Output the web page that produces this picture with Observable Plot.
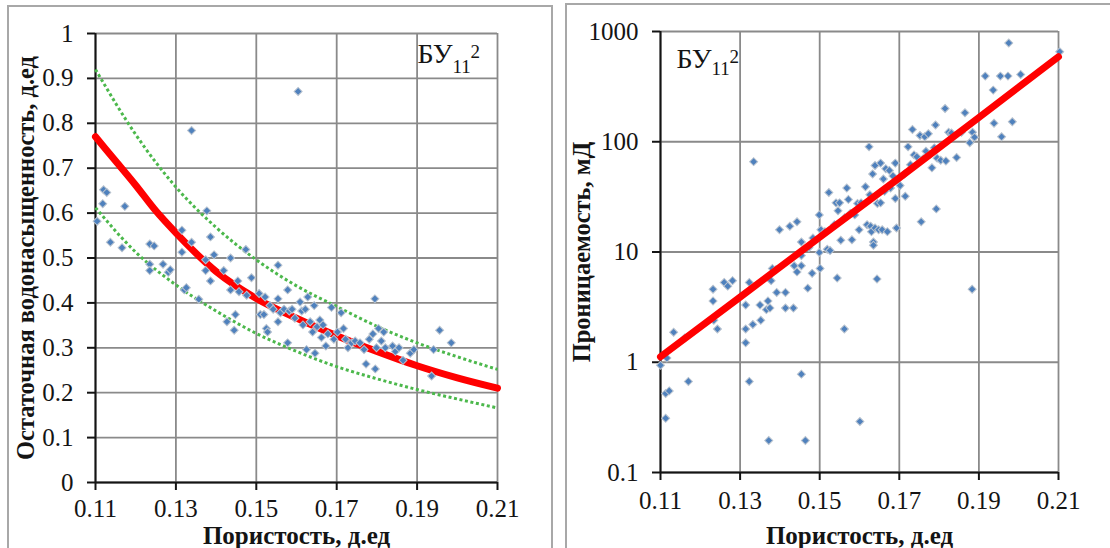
<!DOCTYPE html>
<html><head><meta charset="utf-8">
<script src="https://cdn.jsdelivr.net/npm/d3@7"></script>
<script src="https://cdn.jsdelivr.net/npm/@observablehq/plot@0.6"></script>
<style>
body{margin:0;background:#fff;}
#wrap{position:relative;width:1110px;height:548px;overflow:hidden;background:#fff;}
#wrap svg, #wrap svg text{font-family:'Liberation Serif','Times New Roman',serif !important;}
.frame{position:absolute;border:2px solid #a8a8a8;box-sizing:border-box;}
.panel{position:absolute;top:0;}
</style></head><body>
<div id="wrap">
<div class="frame" style="left:7px;top:5px;width:546px;height:600px"></div>
<div class="frame" style="left:565px;top:3px;width:600px;height:600px"></div>
<div class="panel" id="left" style="left:0"></div>
<div class="panel" id="right" style="left:555px"></div>
</div>
<script>
// ---------- data ----------
const phiTicks = [0.11, 0.13, 0.15, 0.17, 0.19, 0.21];
const swTicks = [0, 0.1, 0.2, 0.3, 0.4, 0.5, 0.6, 0.7, 0.8, 0.9, 1];
const kTicks = [0.1, 1, 10, 100, 1000];

const xTitle = "Пористость, д.ед";
const yTitleLeft = "Остаточная водонасыщенность, д.ед";
const yTitleRight = "Проницаемость, мД";
const layerMain = "БУ";
const layerSub = "11";
const layerSup = "2";

// left panel: porosity vs residual water saturation
const swPoints = [
[0.1104,0.582],[0.1118,0.621],[0.1120,0.652],[0.1128,0.646],[0.1137,0.535],[0.1173,0.615],[0.1166,0.523],
[0.1235,0.531],[0.1246,0.527],[0.1235,0.486],[0.1235,0.472],[0.1268,0.486],[0.1281,0.468],[0.1286,0.474],
[0.1315,0.562],[0.1315,0.513],[0.1321,0.429],[0.1326,0.434],[0.1339,0.784],[0.1339,0.535],[0.1357,0.408],
[0.1374,0.496],[0.1374,0.472],[0.1377,0.605],[0.1386,0.547],[0.1386,0.449],[0.1395,0.507],
[0.1419,0.472],[0.1427,0.358],[0.1436,0.500],[0.1436,0.429],[0.1445,0.339],[0.1448,0.374],[0.1454,0.449],
[0.1457,0.425],[0.1474,0.519],[0.1476,0.417],[0.1488,0.456],
[0.1507,0.421],[0.1510,0.374],[0.1519,0.374],[0.1522,0.413],[0.1525,0.343],[0.1528,0.335],[0.1534,0.394],
[0.1542,0.386],[0.1554,0.484],[0.1554,0.409],[0.1554,0.358],[0.1560,0.378],[0.1569,0.386],[0.1578,0.429],
[0.1578,0.311],[0.1582,0.382],[0.1589,0.386],[0.1596,0.366],
[0.1604,0.871],[0.1609,0.402],[0.1613,0.382],[0.1616,0.351],[0.1622,0.386],[0.1625,0.296],[0.1628,0.413],
[0.1634,0.358],[0.1640,0.335],[0.1644,0.394],[0.1646,0.288],[0.1651,0.347],[0.1658,0.362],[0.1662,0.323],
[0.1666,0.351],[0.1673,0.304],[0.1678,0.331],[0.1687,0.390],[0.1693,0.319],
[0.1702,0.335],[0.1711,0.378],[0.1717,0.343],[0.1722,0.319],[0.1728,0.300],[0.1737,0.311],[0.1746,0.315],
[0.1758,0.311],[0.1768,0.296],[0.1773,0.264],[0.1781,0.319],[0.1790,0.331],[0.1795,0.409],[0.1796,0.253],
[0.1799,0.300],[0.1804,0.343],[0.1811,0.315],[0.1817,0.335],[0.1821,0.300],[0.1839,0.304],[0.1846,0.292],
[0.1855,0.300],[0.1865,0.272],[0.1883,0.288],[0.1892,0.296],
[0.1936,0.237],[0.1941,0.296],[0.1956,0.339],[0.1985,0.311]
];

// fitted curve and its bounds
const fitPhi = [0.11, 0.115, 0.12, 0.125, 0.13, 0.14, 0.15, 0.16, 0.17, 0.18, 0.19, 0.20, 0.21];
const fitSw  = [0.77, 0.716, 0.662, 0.605, 0.556, 0.47, 0.41, 0.366, 0.327, 0.292, 0.26, 0.233, 0.21];
const boundPhi = [0.11, 0.12, 0.13, 0.14, 0.15, 0.16, 0.17, 0.18, 0.19, 0.20, 0.21];
const upperSw  = [0.92, 0.775, 0.658, 0.568, 0.496, 0.438, 0.392, 0.348, 0.311, 0.28, 0.252];
const lowerSw  = [0.612, 0.513, 0.44, 0.382, 0.332, 0.292, 0.258, 0.231, 0.207, 0.186, 0.166];

// right panel: porosity vs permeability
const kPoints = [
[0.1100,0.94],[0.1116,1.09],[0.1113,0.52],[0.1122,0.55],[0.1113,0.31],[0.1133,1.87],[0.1161,1.66],[0.1170,0.67],
[0.1232,4.6],[0.1232,3.6],[0.1234,2.4],[0.1243,2.0],[0.1260,5.3],[0.1269,4.9],[0.1281,5.5],
[0.1314,3.3],[0.1314,2.0],[0.1314,1.5],[0.1323,5.3],[0.1323,0.67],[0.1332,2.2],[0.1334,66],[0.1350,3.3],
[0.1352,2.4],[0.1366,3.0],[0.1370,3.6],[0.1372,0.195],[0.1375,3.1],[0.1378,5.5],[0.1381,7.1],[0.1390,6.9],
[0.1392,4.3],[0.1399,15.9],
[0.1414,4.3],[0.1414,3.1],[0.1425,17.1],[0.1434,3.1],[0.1436,7.5],[0.1443,18.8],[0.1443,6.6],[0.1454,0.78],
[0.1454,12.3],[0.1454,9.3],[0.1454,7.5],[0.1464,0.195],[0.1470,4.7],[0.1473,11.0],[0.1481,6.4],[0.1483,13.4],
[0.1499,21.7],[0.1499,9.9],
[0.1501,7.1],[0.1503,15.9],[0.1513,15.3],[0.1519,10.6],[0.1523,34.7],[0.1526,10.3],[0.1537,17.7],[0.1541,27.9],
[0.1544,5.8],[0.1546,23.7],[0.1550,27.9],[0.1553,12.8],[0.1562,2.0],[0.1563,20.5],[0.1568,38],[0.1572,30],
[0.1577,22.4],[0.1581,12.9],[0.1588,21.7],[0.1595,27.5],[0.1599,15.9],
[0.1601,0.29],[0.1604,27.9],[0.1615,39],[0.1619,17.7],[0.1624,90],[0.1626,33],[0.1628,17.1],[0.1630,15.3],
[0.1633,51],[0.1635,12.3],[0.1635,11.5],[0.1639,61],[0.1639,16.5],[0.1644,5.7],[0.1645,27.5],[0.1648,15.9],
[0.1653,27.9],[0.1653,64],[0.1657,15.9],[0.1660,46],[0.1663,35.5],[0.1666,57],[0.1670,15.3],[0.1675,55],
[0.1678,38],[0.1684,49],[0.1690,64],[0.1690,30.6],[0.1693,16.5],[0.1697,46],
[0.1702,40],[0.1713,51],[0.1715,32],[0.1722,90],[0.1728,62],[0.1733,129],[0.1737,76],[0.1744,73],[0.1752,114],
[0.1755,18.8],[0.1760,70],[0.1764,111],[0.1767,82],[0.1773,118],[0.1777,77],[0.1782,58],[0.1788,88],[0.1791,142],
[0.1793,24.6],[0.1795,71],
[0.1804,68],[0.1815,200],[0.1817,67],[0.1824,122],[0.1831,120],[0.1844,72],[0.1856,122],[0.1865,183],[0.1877,98],
[0.1883,4.6],[0.1884,122],[0.1889,110],
[0.1916,394],[0.1936,294],[0.1938,147],[0.1954,394],[0.1957,111],[0.1973,394],[0.1975,786],[0.1984,152],
[0.2005,408],[0.2103,655]
];
const kFitPhi = [0.11, 0.13, 0.15, 0.17, 0.19, 0.21];
const kFit    = [1.12, 3.9, 13.6, 47, 166, 590];

// ---------- styling ----------
const FONT = "Liberation Serif";
const GRID = "#8a8a8a";
const INK = "#141414";
const DOT = {symbol: "square", rotate: 45, r: 3.2, fill: "#4f81bd", stroke: "#b9c3cf", strokeWidth: 1};
const TXT = {fontFamily: FONT, fill: INK};

const fitLine = fitPhi.map((x, i) => ({x, y: fitSw[i]}));
const upLine = boundPhi.map((x, i) => ({x, y: upperSw[i]}));
const loLine = boundPhi.map((x, i) => ({x, y: lowerSw[i]}));
const kLine = kFitPhi.map((x, i) => ({x, y: kFit[i]}));

// "БУ" ends where the subscript starts
function layerLabel(dxJoin, dyMain, dySub, dxSup, dySup) {
  const common = {...TXT, frameAnchor: "top-left", lineAnchor: "bottom", text: d => d};
  return [
    Plot.text([layerMain], {...common, textAnchor: "end", dx: dxJoin, dy: dyMain, fontSize: 28}),
    Plot.text([layerSub], {...common, textAnchor: "start", dx: dxJoin, dy: dySub, fontSize: 19}),
    Plot.text([layerSup], {...common, textAnchor: "start", dx: dxSup, dy: dySup, fontSize: 19})
  ];
}

const green = {x: "x", y: "y", stroke: "#4cb84c", strokeWidth: 3, strokeDasharray: "3 2.6", strokeLinecap: "butt", curve: "monotone-x"};

const left = Plot.plot({
  width: 555, height: 548,
  marginLeft: 95, marginRight: 58, marginTop: 33, marginBottom: 66,
  style: {background: "transparent", fontFamily: FONT, color: INK},
  x: {domain: [0.11, 0.21]},
  y: {domain: [0, 1]},
  marks: [
    Plot.ruleY(swTicks, {x1: 0.11, x2: 0.21, stroke: GRID, strokeWidth: 1.8}),
    Plot.ruleX(phiTicks, {y1: 0, y2: 1, stroke: GRID, strokeWidth: 1.8}),
    Plot.ruleX([0.11], {y1: 0, y2: 1, stroke: INK, strokeWidth: 2}),
    Plot.ruleY([0], {x1: 0.11, x2: 0.21, stroke: INK, strokeWidth: 2}),
    Plot.axisY(swTicks, {...TXT, tickSize: 8, tickPadding: 14, strokeWidth: 2, tickFormat: d => String(d), label: null, fontSize: 25}),
    Plot.axisX(phiTicks, {...TXT, tickSize: 8, tickPadding: 9, strokeWidth: 2, tickFormat: d => d.toFixed(2), label: null, fontSize: 25}),
    Plot.line(upLine, green),
    Plot.line(loLine, green),
    Plot.line(fitLine, {x: "x", y: "y", stroke: "#ff0000", strokeWidth: 7, curve: "monotone-x"}),
    Plot.dot(swPoints, {x: d => d[0], y: d => d[1], ...DOT}),
    Plot.text([xTitle], {...TXT, text: d => d, frameAnchor: "bottom", dy: 61, lineAnchor: "bottom", fontWeight: "bold", fontSize: 25}),
    Plot.text([yTitleLeft], {...TXT, text: d => d, frameAnchor: "left", rotate: -90, dx: -62, lineAnchor: "bottom", textAnchor: "middle", fontWeight: "bold", fontSize: 24.5}),
    ...layerLabel(357, 29, 39, 375, 24)
  ]
});
document.getElementById("left").append(left);

const right = Plot.plot({
  width: 555, height: 548,
  marginLeft: 105, marginRight: 52, marginTop: 31, marginBottom: 76,
  style: {background: "transparent", fontFamily: FONT, color: INK},
  x: {domain: [0.11, 0.21]},
  y: {type: "log", domain: [0.1, 1000]},
  marks: [
    Plot.ruleY(kTicks, {x1: 0.11, x2: 0.21, stroke: GRID, strokeWidth: 1.8}),
    Plot.ruleX(phiTicks, {y1: 0.1, y2: 1000, stroke: GRID, strokeWidth: 1.8}),
    Plot.ruleX([0.11], {y1: 0.1, y2: 1000, stroke: INK, strokeWidth: 2}),
    Plot.ruleY([0.1], {x1: 0.11, x2: 0.21, stroke: INK, strokeWidth: 2}),
    Plot.axisY(kTicks, {...TXT, tickSize: 8, tickPadding: 14, strokeWidth: 2, tickFormat: d => String(d), label: null, fontSize: 25}),
    Plot.axisX(phiTicks, {...TXT, tickSize: 8, tickPadding: 11, strokeWidth: 2, tickFormat: d => d.toFixed(2), label: null, fontSize: 25}),
    Plot.dot(kPoints, {x: d => d[0], y: d => d[1], ...DOT}),
    Plot.line(kLine, {x: "x", y: "y", stroke: "#ff0000", strokeWidth: 7}),
    Plot.text([xTitle], {...TXT, text: d => d, frameAnchor: "bottom", dy: 71, lineAnchor: "bottom", fontWeight: "bold", fontSize: 25}),
    Plot.text([yTitleRight], {...TXT, text: d => d, frameAnchor: "left", rotate: -90, dx: -71, lineAnchor: "bottom", textAnchor: "middle", fontWeight: "bold", fontSize: 24.5}),
    ...layerLabel(51, 36, 43, 69, 31)
  ]
});
document.getElementById("right").append(right);
</script>
</body></html>
